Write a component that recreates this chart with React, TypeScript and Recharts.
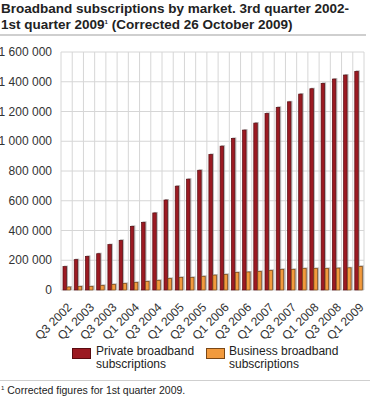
import { BarChart, Bar, XAxis, YAxis, CartesianGrid } from "recharts";

const quarters = [
  "Q3 2002", "Q4 2002", "Q1 2003", "Q2 2003", "Q3 2003", "Q4 2003", "Q1 2004", "Q2 2004", "Q3 2004",
  "Q4 2004", "Q1 2005", "Q2 2005", "Q3 2005", "Q4 2005", "Q1 2006", "Q2 2006", "Q3 2006", "Q4 2006",
  "Q1 2007", "Q2 2007", "Q3 2007", "Q4 2007", "Q1 2008", "Q2 2008", "Q3 2008", "Q4 2008", "Q1 2009",
];
const privateSubs = [
  157000, 204000, 226000, 244000, 305000, 334000, 428000, 455000, 518000,
  605000, 698000, 745000, 805000, 911000, 967000, 1019000, 1075000, 1122000,
  1187000, 1228000, 1265000, 1317000, 1353000, 1389000, 1418000, 1445000, 1470000,
];
const businessSubs = [
  20000, 24000, 24000, 31000, 38000, 44000, 51000, 58000, 65000,
  78000, 85000, 85000, 92000, 100000, 105000, 118000, 121000, 125000,
  132000, 139000, 139000, 145000, 145000, 145000, 147000, 149000, 159000,
];
const yTicks = [0, 200000, 400000, 600000, 800000, 1000000, 1200000, 1400000, 1600000];

const data = quarters.map((q, i) => ({ q, priv: privateSubs[i], bus: businessSubs[i] }));

const FONT = "'Liberation Sans', Arial, sans-serif";
const RED = "#9b1a22";
const ORANGE = "#f29a3d";

const fmt = (v: number) => String(v).replace(/\B(?=(\d{3})+(?!\d))/g, " ");

const shadowBar = (fill: string, stroke: string) => (props: any) => {
  const { x, y, width, height } = props;
  if (!height) return null;
  return (
    <g>
      <rect x={x + 1} y={y - 1} width={width} height={height + 1} fill="#999" opacity={0.7} />
      <rect x={x} y={y} width={width - 0.5} height={height} fill={fill} stroke={stroke} strokeWidth={0.7} />
    </g>
  );
};

const XTick = (props: any) => {
  const { x, y, payload } = props;
  return (
    <g transform={`translate(${x + 3},${y + 7}) rotate(-45)`}>
      <text x={0} y={0} dy="0.35em" textAnchor="end" fontSize={12} fill="#333" fontFamily={FONT}>
        {payload.value}
      </text>
    </g>
  );
};

const YTick = (props: any) => {
  const { x, y, payload } = props;
  return (
    <text x={x} y={y} dy="0.35em" textAnchor="end" fontSize={12} fill="#333" fontFamily={FONT}>
      {fmt(payload.value)}
    </text>
  );
};

export default function App() {
  return (
    <div style={{ position: "absolute", left: 0, top: 0, width: 370, height: 396, background: "#fff", fontFamily: FONT, color: "#222" }}>
      <div style={{ position: "absolute", left: 0, top: 0 }}>
        <BarChart width={370} height={396} data={data} margin={{ top: 52, right: 6, left: 3, bottom: 56 }} barSize={4} barGap={0}>
          <CartesianGrid
            stroke="#d6d6d6"
            verticalCoordinatesGenerator={({ offset }: any) =>
              Array.from({ length: quarters.length + 1 }, (_, i) => offset.left + (i * offset.width) / quarters.length)
            }
          />
          <XAxis dataKey="q" interval={1} tick={<XTick />} tickLine={false} axisLine={false} height={50} />
          <YAxis
            domain={[0, 1600000]}
            ticks={yTicks}
            tickLine={false}
            axisLine={false}
            width={58}
            tick={<YTick />}
            tickMargin={3}
          />
          <Bar dataKey="priv" fill={RED} shape={shadowBar(RED, "#5a0b10")} isAnimationActive={false} />
          <Bar dataKey="bus" fill={ORANGE} shape={shadowBar(ORANGE, "#7a4716")} isAnimationActive={false} />
        </BarChart>
      </div>
      <div style={{ position: "absolute", left: 1, top: 1, fontSize: 13.5, fontWeight: "bold", lineHeight: "16px", color: "#222" }}>
        Broadband subscriptions by market. 3rd quarter 2002-
        <br />
        1st quarter 2009<sup style={{ fontSize: 6, verticalAlign: "top", lineHeight: "10px" }}>1</sup> (Corrected 26 October 2009)
      </div>
      <div style={{ position: "absolute", left: 0, top: 34, width: 366, height: 2, background: "#cfcfcf" }} />
      <div style={{ position: "absolute", left: 72, top: 348, width: 17, height: 9, background: RED, border: "1px solid #5a0b10" }} />
      <div style={{ position: "absolute", left: 96, top: 345, fontSize: 12, lineHeight: "13px", color: "#222" }}>
        Private broadband
        <br />
        subscriptions
      </div>
      <div style={{ position: "absolute", left: 206, top: 348, width: 17, height: 9, background: ORANGE, border: "1px solid #7a4716" }} />
      <div style={{ position: "absolute", left: 229, top: 345, fontSize: 12, lineHeight: "13px", color: "#222" }}>
        Business broadband
        <br />
        subscriptions
      </div>
      <div style={{ position: "absolute", left: 0, top: 380, width: 370, height: 1, background: "#cfcfcf" }} />
      <div style={{ position: "absolute", left: 1, top: 384, fontSize: 10.5, lineHeight: "12px", color: "#222" }}>
        <sup style={{ fontSize: 6, verticalAlign: "top", lineHeight: "8px" }}>1</sup> Corrected figures for 1st quarter 2009.
      </div>
    </div>
  );
}
